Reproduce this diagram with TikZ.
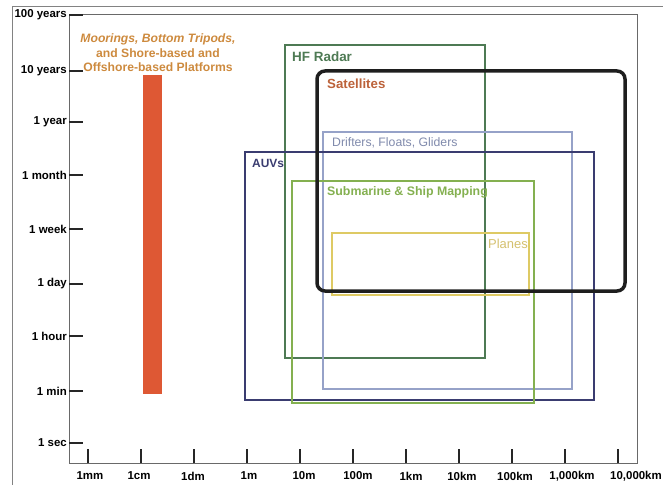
\documentclass[tikz,border=0pt]{standalone}
\usepackage{fontspec}
\setmainfont{Liberation Sans}
\usetikzlibrary{positioning}

\definecolor{axisgray}{RGB}{105,105,105}
\definecolor{framegray}{RGB}{130,130,130}
\definecolor{barred}{RGB}{222,88,52}
\definecolor{mooringtext}{RGB}{205,138,62}
\definecolor{hfgreen}{RGB}{78,122,84}
\definecolor{satblack}{RGB}{30,30,30}
\definecolor{sattext}{RGB}{188,98,58}
\definecolor{driftblue}{RGB}{150,162,200}
\definecolor{drifttext}{RGB}{128,138,172}
\definecolor{auvnavy}{RGB}{58,60,112}
\definecolor{subgreen}{RGB}{132,176,80}
\definecolor{planeyellow}{RGB}{222,202,100}
\definecolor{planetext}{RGB}{212,192,110}

\begin{document}
\begin{tikzpicture}[x=1bp, y=-1bp, line join=miter,
	font=\bfseries\fontsize{11.5}{13}\selectfont,
	ylab/.style={anchor=east, inner sep=0pt},
	xlab/.style={anchor=center, inner sep=0pt},
	ticmark/.style={draw=black!85, line width=2bp},
	databox/.style={line width=1.4bp},
	boxlab/.style={anchor=west, inner sep=0pt, font=\bfseries\fontsize{12}{14}\selectfont}]
	
	\useasboundingbox (0,0) rectangle (663,485);
	
	% Khung ngoai va truc
	\draw[framegray, line width=0.8bp] (12,485) -- (12,6) -- (663,6);
	\draw[axisgray, line width=1bp] (69,15) rectangle (637,463);
	
	% Truc thoi gian
	\foreach \lab/\yy [count=\i from 0] in {100 years/15,10 years/71,1 year/122,1 month/175,1 week/229,1 day/284,1 hour/336,1 min/391,1 sec/443} {
		\draw[ticmark] (69,\yy) -- (83,\yy);
		\node[ylab] (y\i) at (67,\yy) {\lab};
	}
	
	% Truc khoang cach
	\foreach \lab/\lx [count=\i from 0] in {1mm/90,1cm/139,1dm/193,1m/249,10m/304,100m/358,1km/411,10km/462,100km/515,{1,000km}/572,{10,000km}/636} {
		\pgfmathsetmacro\xx{88+53*\i}
		\draw[ticmark] (\xx,463) -- (\xx,449);
		\node[xlab] (x\i) at (\lx,476) {\lab};
	}
	
	% Moorings
	\fill[barred] (143,75) rectangle (162,394);
	\node[align=center, text=mooringtext, inner sep=0pt, font=\bfseries\fontsize{12.2}{14.5}\selectfont] (moor) at (158,53)
		{\textit{Moorings, Bottom Tripods,}\\and Shore-based and\\Offshore-based Platforms};
	
	% HF Radar
	\draw[databox, hfgreen] (285,45) rectangle (485,358);
	\node[boxlab, text=hfgreen, font=\bfseries\fontsize{13.5}{15}\selectfont] (hf) at (292,57) {HF Radar};
	
	% Drifters, Floats, Gliders
	\draw[databox, driftblue] (323,132) rectangle (572,389);
	\node[boxlab, text=drifttext, font=\fontsize{12.3}{14}\selectfont] (drift) at (332,143) {Drifters, Floats, Gliders};
	
	% AUVs
	\draw[databox, auvnavy] (245,152) rectangle (594,400);
	\node[boxlab, text=auvnavy] (auv) at (252,163) {AUVs};
	
	% Submarine & Ship Mapping
	\draw[databox, subgreen] (292,181) rectangle (534,403);
	\node[boxlab, text=subgreen, font=\bfseries\fontsize{12.4}{14}\selectfont] (sub) at (327,192) {Submarine \& Ship Mapping};
	
	% Planes
	\draw[databox, planeyellow] (332,233) rectangle (529,295);
	\node[boxlab, anchor=east, text=planetext, font=\fontsize{13}{15}\selectfont] (plane) at (528,244) {Planes};
	
	% Satellites
	\draw[satblack, line width=3.5bp, rounded corners=8bp] (317,71) rectangle (625,291);
	\node[boxlab, text=sattext, font=\bfseries\fontsize{13.3}{15}\selectfont] (sat) at (327,84) {Satellites};
	
\end{tikzpicture}
\end{document}
